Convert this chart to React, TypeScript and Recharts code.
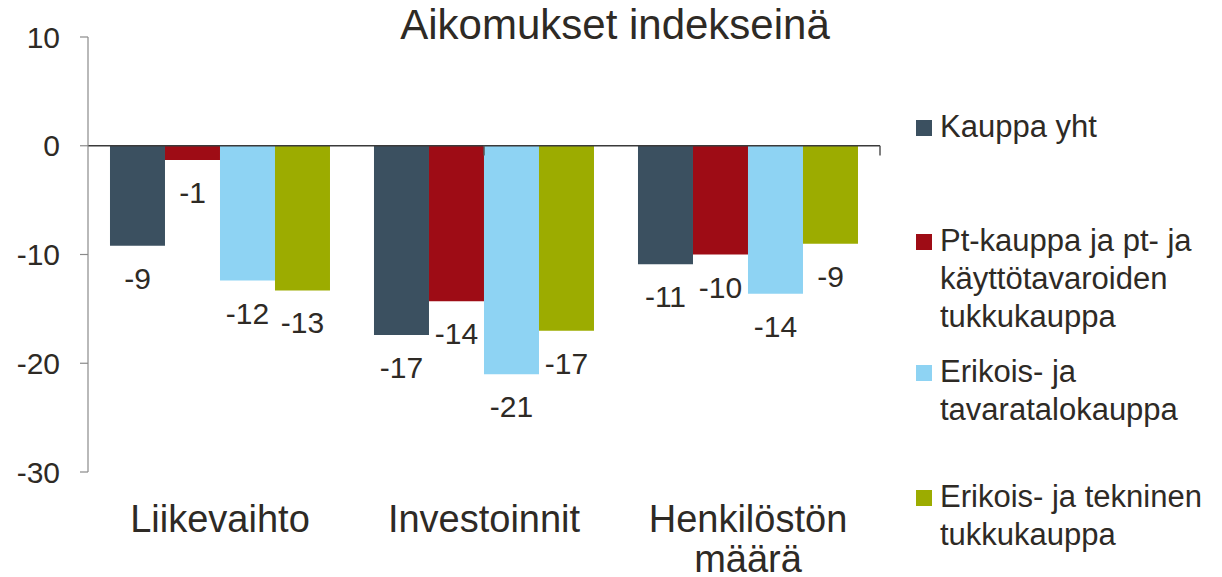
import { BarChart, Bar, XAxis, YAxis, ReferenceLine, LabelList } from 'recharts';

const categories = ['Liikevaihto', 'Investoinnit', 'Henkilöstön määrä'];
const categoryLines = [['Liikevaihto'], ['Investoinnit'], ['Henkilöstön', 'määrä']];

const seriesNames = [
  'Kauppa yht',
  'Pt-kauppa ja pt- ja käyttötavaroiden tukkukauppa',
  'Erikois- ja tavaratalokauppa',
  'Erikois- ja tekninen tukkukauppa',
];
const legendLines = [
  ['Kauppa yht'],
  ['Pt-kauppa ja pt- ja', 'käyttötavaroiden', 'tukkukauppa'],
  ['Erikois- ja', 'tavaratalokauppa'],
  ['Erikois- ja tekninen', 'tukkukauppa'],
];
const colors = ['#3B5060', '#9E0C15', '#8ED3F3', '#9CAC00'];

const kauppaYht = [-9.2, -17.4, -10.9];
const ptKauppa = [-1.3, -14.3, -10.0];
const erikoisTavaratalo = [-12.4, -21.0, -13.6];
const erikoisTekninen = [-13.3, -17.0, -9.0];

const yTicks = [-30, -20, -10, 0, 10];

const seriesKeys = ['s0', 's1', 's2', 's3'];
const seriesValues = [kauppaYht, ptKauppa, erikoisTavaratalo, erikoisTekninen];

const data = categories.map((c, i) => {
  const row: Record<string, string | number> = { name: c };
  seriesKeys.forEach((k, j) => {
    row[k] = seriesValues[j][i];
  });
  return row;
});

const FONT = '"Liberation Sans", Arial, sans-serif';
const TEXT = '#2E2A25';
const AXIS = '#8A8A8A';

function CategoryTick(props: any) {
  const { x, y, payload } = props;
  const idx = categories.indexOf(payload.value);
  const lines = idx >= 0 ? categoryLines[idx] : [payload.value];
  return (
    <text x={x} y={y} textAnchor="middle" fontSize={38} fill={TEXT} fontFamily={FONT}>
      {lines.map((l, i) => (
        <tspan key={i} x={x} dy={i === 0 ? 60 : 40}>
          {l}
        </tspan>
      ))}
    </text>
  );
}

function valueLabel(props: any) {
  const { x, y, width, height, value } = props;
  const end = Math.max(Number(y), Number(y) + Number(height));
  return (
    <text x={Number(x) + Number(width) / 2} y={end + 43} textAnchor="middle" fontSize={30} fill={TEXT} fontFamily={FONT}>
      {Math.round(Number(value))}
    </text>
  );
}

const legendTops = [108, 222, 353, 478];

export default function App() {
  return (
    <div style={{ position: 'absolute', left: 0, top: 0, width: 1222, height: 577, background: '#fff', fontFamily: FONT }}>
      <div
        style={{
          position: 'absolute',
          left: 0,
          width: 1230,
          top: 4,
          textAlign: 'center',
          fontSize: 42,
          lineHeight: '42px',
          color: TEXT,
        }}
      >
        Aikomukset indekseinä
      </div>
      <BarChart
        width={1222}
        height={577}
        data={data}
        margin={{ top: 37, right: 342, left: 0, bottom: 0 }}
        barCategoryGap="8.33%"
        barGap={0}
      >
        <XAxis
          dataKey="name"
          height={105}
          axisLine={false}
          tickLine={false}
          tickSize={0}
          tickMargin={0}
          interval={0}
          tick={<CategoryTick />}
        />
        <XAxis xAxisId="b" type="number" domain={[0, 3]} allowDataOverflow hide />
        <YAxis
          width={88}
          domain={[-30, 10]}
          ticks={yTicks}
          interval={0}
          axisLine={{ stroke: AXIS, strokeWidth: 1.2 }}
          tickLine={{ stroke: AXIS, strokeWidth: 1.2 }}
          tickSize={8}
          tickMargin={20}
          tick={{ fontSize: 30, fill: TEXT, fontFamily: FONT }}
        />
        {seriesKeys.map((k, j) => (
          <Bar key={k} dataKey={k} name={seriesNames[j]} fill={colors[j]} isAnimationActive={false}>
            <LabelList dataKey={k} content={valueLabel} />
          </Bar>
        ))}
        <ReferenceLine y={0} stroke="#3A3A3A" strokeWidth={1.5} />
        {[1, 2, 3].map((b) => (
          <ReferenceLine
            key={b}
            xAxisId="b"
            segment={[
              { x: b, y: 0 },
              { x: b, y: -0.9 },
            ]}
            stroke={b === 3 ? AXIS : '#555555'}
            strokeWidth={1.5}
          />
        ))}
      </BarChart>
      {legendLines.map((lines, i) => (
        <div
          key={i}
          style={{
            position: 'absolute',
            left: 916,
            top: legendTops[i],
            fontSize: 31,
            lineHeight: '38px',
            color: TEXT,
            whiteSpace: 'nowrap',
          }}
        >
          <div style={{ position: 'absolute', left: 0, top: 12, width: 16, height: 16, background: colors[i] }} />
          <div style={{ marginLeft: 24 }}>
            {lines.map((l, k) => (
              <div key={k}>{l}</div>
            ))}
          </div>
        </div>
      ))}
    </div>
  );
}
